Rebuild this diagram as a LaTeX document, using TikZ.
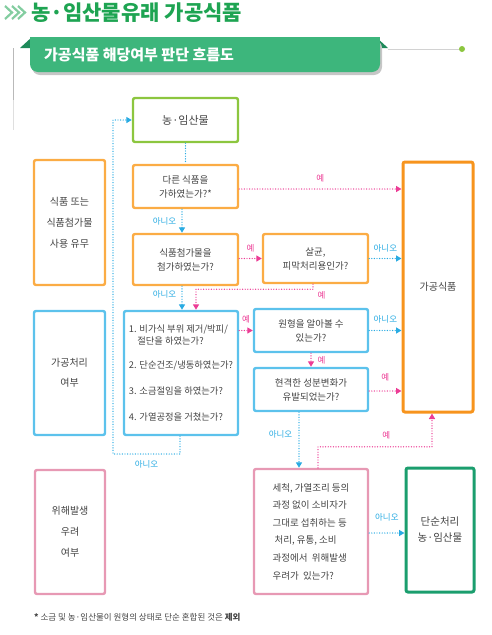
\documentclass[tikz,border=0pt]{standalone}
\usepackage{fontspec}
\setmainfont{Noto Sans CJK KR}
\usepackage{xcolor}
\usepackage{tikz}
\usetikzlibrary{arrows.meta}
\usetikzlibrary{positioning}
\definecolor{titlegreen}{HTML}{1EA452}
\definecolor{bannergreen}{HTML}{3DB67C}
\definecolor{bannerdark}{HTML}{1E8A5A}
\definecolor{limegreen}{HTML}{8CC63F}
\definecolor{tealgreen}{HTML}{1B9E6E}
\definecolor{orng}{HTML}{F7941D}
\definecolor{lightorng}{HTML}{FBAC45}
\definecolor{boxblue}{HTML}{5CC2EC}
\definecolor{lineblue}{HTML}{29ABE2}
\definecolor{linepink}{HTML}{EC3C95}
\definecolor{boxpink}{HTML}{E799B4}
\definecolor{txtgrey}{HTML}{444444}
\tikzset{box/.style={draw, rounded corners=2pt, line width=2.4pt, fill=white, align=center, text=txtgrey, inner sep=2pt, font=\fontsize{9.5}{14}\selectfont}}
\tikzset{orangebox/.style={box, draw=lightorng}}
\tikzset{bluebox/.style={box, draw=boxblue}}
\tikzset{pinkbox/.style={box, draw=boxpink}}
\tikzset{yes/.style={draw=linepink, line width=1.4pt, line cap=round, dash pattern=on 0pt off 2.6pt, -{Triangle[length=5.5pt,width=6pt]}}}
\tikzset{no/.style={draw=lineblue, line width=1.4pt, line cap=round, dash pattern=on 0pt off 2.6pt, -{Triangle[length=5.5pt,width=6pt]}}}
\tikzset{yeslabel/.style={text=linepink, font=\fontsize{8.5}{10}\selectfont, inner sep=2pt}}
\tikzset{nolabel/.style={text=lineblue, font=\fontsize{8.5}{10}\selectfont, inner sep=2pt}}

\begin{document}
\begin{tikzpicture}[x=1pt,y=-1pt]
\useasboundingbox (0,0) rectangle (492,635);
% heading
\draw[titlegreen!55, line width=2.2pt] (5,6) -- (12,12.5) -- (5,19);
\draw[titlegreen!55, line width=2.2pt] (12,6) -- (19,12.5) -- (12,19);
\draw[titlegreen!55, line width=2.2pt] (18,6) -- (25,12.5) -- (18,19);
\node[anchor=west, text=titlegreen, font=\fontsize{21}{24}\bfseries, inner sep=0pt] (title) at (31,13) {농·임산물유래 가공식품};
% banner
\draw[gray!55, line width=0.8pt] (13,48) -- (13,100);
\draw[gray!25, line width=0.8pt] (13,100) -- (13,130);
\fill[bannerdark] (20,48) -- (32,37) -- (32,48) -- cycle;
\fill[bannerdark] (376,37) -- (388,48) -- (376,48) -- cycle;
\fill[gray!45, rounded corners=8pt] (32,40) rectangle (382,75);
\fill[bannergreen, rounded corners=8pt] (30,37) rectangle (380,72);
\fill[bannergreen] (30,37) rectangle (380,55);
\draw[gray!35, line width=0.8pt] (388,49) -- (459,49);
\fill[limegreen] (462,49) circle (3pt);
\node[anchor=west, text=white, font=\fontsize{15}{18}\bfseries, inner sep=0pt] (subtitle) at (44,55) {가공식품 해당여부 판단 흐름도};

% left columns
\node[orangebox, minimum width=71pt, minimum height=125pt, font=\fontsize{10}{21}\selectfont] (use) at (69.5,222.5) {식품 또는\\식품첨가물\\사용 유무};
\node[bluebox, minimum width=71pt, minimum height=124pt, font=\fontsize{10}{20}\selectfont] (treat) at (69.5,373) {가공처리\\여부};
\node[pinkbox, minimum width=70pt, minimum height=124pt, font=\fontsize{10}{21}\selectfont] (risk) at (70,532) {위해발생\\우려\\여부};

% questions
\node[box, draw=limegreen, minimum width=105pt, minimum height=44pt, font=\fontsize{11}{14}\selectfont] (farm) at (185.5,120) {농·임산물};
\node[orangebox, minimum width=105pt, minimum height=43pt] (other) at (185.5,186.5) {다른 식품을\\가하였는가?*};
\node[orangebox, minimum width=105pt, minimum height=51pt] (additive) at (185.5,259.5) {식품첨가물을\\첨가하였는가?};
\node[orangebox, minimum width=105pt, minimum height=49pt] (sterile) at (315.5,258.5) {살균,\\피막처리용인가?};
\node[bluebox, minimum width=114pt, minimum height=124pt, align=left, font=\fontsize{9.3}{12}\selectfont] (steps) at (181,373) {1. 비가식 부위 제거/박피/\\\hspace*{0.9em}절단을 하였는가?\\[12pt]2. 단순건조/냉동하였는가?\\[14pt]3. 소금절임을 하였는가?\\[14pt]4. 가열공정을 거쳤는가?};
\node[bluebox, minimum width=114pt, minimum height=43pt] (shape) at (311,330.5) {원형을 알아볼 수\\있는가?};
\node[bluebox, minimum width=114pt, minimum height=43pt] (change) at (311,389.5) {현격한 성분변화가\\유발되었는가?};
\node[pinkbox, minimum width=114pt, minimum height=125pt, align=left, font=\fontsize{9.5}{17.6}\selectfont] (hazard) at (311,531.5) {세척, 가열조리 등의\\과정 없이 소비자가\\그대로 섭취하는 등\\\hspace*{2pt}처리, 유통, 소비\\과정에서 \ 위해발생\\우려가 \ 있는가?};

% results
\node[box, draw=orng, line width=3pt, minimum width=70pt, minimum height=250pt, font=\fontsize{10}{14}\selectfont] (processed) at (438,287) {가공식품};
\node[box, draw=tealgreen, line width=3pt, minimum width=68pt, minimum height=124pt, font=\fontsize{10.5}{16}\selectfont] (simple) at (440,530) {단순처리\\농·임산물};

% connectors
\draw[no, -] (farm.south) -- (other.north);
\draw[no] ([xshift=-3.5pt]other.south) -- ([xshift=-3.5pt]additive.north) node[nolabel, midway, left=3pt] (n1) {아니오};
\draw[yes] (other.east |- 0,189) -- (processed.west |- 0,189) node[yeslabel, midway, above=4pt] (y1) {예};
\draw[yes] (additive.east |- sterile.west) -- (sterile.west) node[yeslabel, midway, above=4pt] (y2) {예};
\draw[no] (sterile.east) -- (sterile.east -| processed.west) node[nolabel, midway, above=4pt] (n2) {아니오};
\draw[no] ([xshift=-3.5pt]additive.south) -- ([xshift=1pt]steps.north) node[nolabel, pos=0.35, left=3pt] (n3) {아니오};
\draw[yes] ([xshift=-2.5pt]sterile.south) -- ++(0,5) node[yeslabel, below right=0pt and 2pt] (y3) {예} -| ([xshift=15pt]steps.north);
\draw[yes] (steps.east |- shape.west) -- (shape.west) node[yeslabel, midway, above=5pt] (y4) {예};
\draw[no] (shape.east) -- (shape.east -| processed.west) node[nolabel, midway, above=5pt] (n4) {아니오};
\draw[yes] (shape.south) -- (change.north) node[yeslabel, midway, right=4pt] (y5) {예};
\draw[yes] ([yshift=-1.5pt]change.east) -- ([yshift=-1.5pt]change.east -| processed.west) node[yeslabel, midway, above=7pt] (y6) {예};
\draw[no] ([xshift=-12pt]change.south) -- ([xshift=-12pt]hazard.north) node[nolabel, pos=0.4, left=4pt] (n5) {아니오};
\draw[yes] ([xshift=7pt]hazard.north) -- ++(0,-21) -| ([xshift=-6pt]processed.south) node[yeslabel, pos=0.3, above=5pt] (y7) {예};
\draw[no] ([yshift=-1.5pt]hazard.east) -- ([yshift=-1.5pt]hazard.east -| simple.west) node[nolabel, midway, above=9pt] (n6) {아니오};
\coordinate (back) at (113,454);
\draw[no] ([xshift=-1pt]steps.south) |- (back) node[nolabel, pos=0.75, below=4pt] (n7) {아니오} |- (farm.west);

% note
\node[anchor=west, text=txtgrey, font=\fontsize{8.5}{10}\selectfont, inner sep=0pt] (note) at (34,617) {{\bfseries *} 소금 및 농·임산물이 원형의 상태로 단순 혼합된 것은 {\bfseries 제외}};
\end{tikzpicture}
\end{document}
